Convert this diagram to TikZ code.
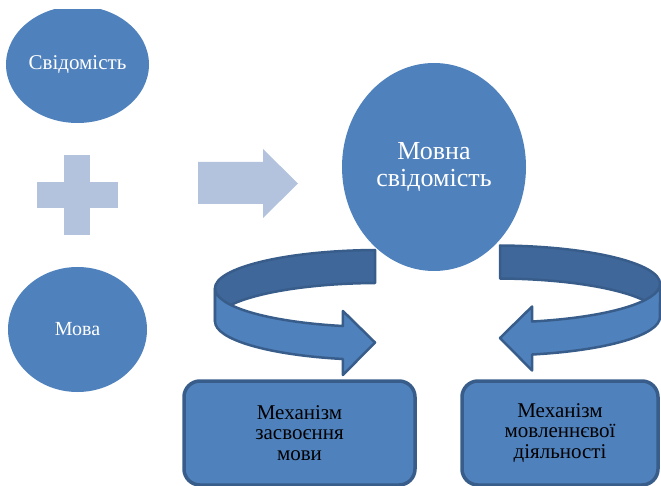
\documentclass[tikz,border=0pt]{standalone}
\usepackage{fontspec}
\setmainfont{Liberation Serif}
\usetikzlibrary{shapes.geometric}

\definecolor{accblue}{HTML}{4F81BD}
\definecolor{accdark}{HTML}{40679A}
\definecolor{accline}{HTML}{385D8A}
\definecolor{acclight}{HTML}{B3C3DE}

\tikzset{
  bubble/.style={ellipse, fill=accblue, text=white, inner sep=0pt, align=center},
  mechbox/.style={draw=accline, line width=3.5pt, fill=accblue, rounded corners=16pt,
    align=center, minimum height=104pt, inner sep=0pt, font=\fontsize{21}{20.5}\selectfont},
  ringline/.style={draw=accline, line width=2.5pt, line join=round},
  looparrow/.pic={
    % back half of the ring
    \path[ringline, fill=accdark]
      (-5,-38.5) arc[start angle=268.3, end angle=180, x radius=165, y radius=38.5]
      -- ++(0,33) arc[start angle=180, end angle=268.3, x radius=165, y radius=38.5] -- cycle;
    % front half with the head
    \path[ringline, fill=accblue]
      (-165,0) arc[start angle=180, end angle=103, x radius=165, y radius=38.5]
      -- (-37.1,22.5) -- (-5,54) -- (-37.1,86.5) -- (-37.1,70.5)
      arc[start angle=103, end angle=180, x radius=165, y radius=38.5] -- cycle;
  }
}

\begin{document}
\begin{tikzpicture}[x=1pt, y=-1pt]
        \useasboundingbox (0,0) rectangle (661,486);

        % Nodes
        \begin{scope}
          \clip (0,10) rectangle (661,486);
          \node (conscious) [bubble, minimum width=143pt, minimum height=117pt, font=\fontsize{21}{24}\selectfont] at (77.5,64.5) {Свідомість};
        \end{scope}
        \node (language) [bubble, minimum width=139pt, minimum height=125pt, font=\fontsize{20}{24}\selectfont] at (77.5,329.5) {Мова};
        \node (langcons) [bubble, minimum width=184pt, minimum height=208pt, font=\fontsize{26}{27}\selectfont] at (434,167) {Мовна\\свідомість};
        \node (acquire) [mechbox, minimum width=231pt] at (299.5,433) {Механізм\\засвоєння\\мови};
        \node (speech) [mechbox, minimum width=196pt] at (560,433) {Механізм\\мовленнєвої\\діяльності};

        % Plus and arrow
        \fill[acclight] (64,155) rectangle (90,235);
        \fill[acclight] (37,182) rectangle (118,208);
        \fill[acclight] (198,162) -- (263,162) -- (263,149) -- (298,183.5) -- (263,218) -- (263,204) -- (198,204) -- cycle;

        % Ring arrows
        \pic at (380,288.5) {looparrow};
        \pic[xscale=-1] at (495,284) {looparrow};
    \end{tikzpicture}
\end{document}
